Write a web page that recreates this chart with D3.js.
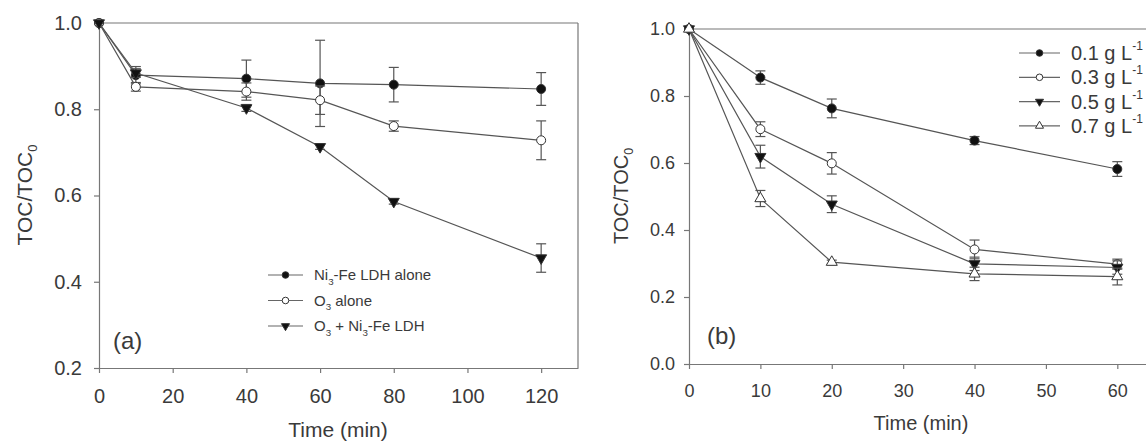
<!DOCTYPE html>
<html>
<head>
<meta charset="utf-8">
<script src="https://cdn.jsdelivr.net/npm/d3@7"></script>
<style>
  body { margin: 0; background: #fff; }
  svg { display: block; font-family: "Liberation Sans", Arial, sans-serif; }
  .axis path, .axis line { stroke: #777; stroke-width: 1.2; }
  .axis text { fill: #3a3a3a; }
</style>
</head>
<body>
<div id="chart"></div>
<script>
// panel (a) data
const timeA = [0, 10, 40, 60, 80, 120];
const ldhAlone = [1.0, 0.879, 0.871, 0.860, 0.857, 0.847];
const ldhAloneErr = [0, 0.02, 0.043, 0.1, 0.04, 0.038];
const o3Alone = [1.0, 0.852, 0.841, 0.821, 0.761, 0.728];
const o3AloneErr = [0, 0.01, 0.02, 0.033, 0.012, 0.045];
const o3Ldh = [1.0, 0.884, 0.803, 0.713, 0.586, 0.455];
const o3LdhErr = [0, 0.01, 0.008, 0.006, 0.006, 0.033];
const ticksXA = [0, 20, 40, 60, 80, 100, 120];
const ticksYA = [0.2, 0.4, 0.6, 0.8, 1.0];

// panel (b) data
const timeB = [0, 10, 20, 40, 60];
const dose01 = [1.0, 0.855, 0.763, 0.667, 0.582];
const dose01Err = [0, 0.02, 0.028, 0.012, 0.022];
const dose03 = [1.0, 0.701, 0.599, 0.342, 0.298];
const dose03Err = [0, 0.022, 0.032, 0.028, 0.015];
const dose05 = [1.0, 0.619, 0.477, 0.299, 0.288];
const dose05Err = [0, 0.034, 0.025, 0.02, 0.02];
const dose07 = [1.0, 0.494, 0.304, 0.269, 0.261];
const dose07Err = [0, 0.024, 0.006, 0.02, 0.025];
const ticksXB = [0, 10, 20, 30, 40, 50, 60];
const ticksYB = [0, 0.2, 0.4, 0.6, 0.8, 1.0];

const W = 1146, H = 441;
const LINE = "#555";
const TEXT = "#3a3a3a";

const svg = d3.select("#chart").append("svg")
  .attr("width", W).attr("height", H);

// 마커 그리기
function marker(g, kind, x, y, r) {
  const s = g.append("path");
  if (kind === "fcircle" || kind === "ocircle") {
    s.attr("d", d3.symbol(d3.symbolCircle, Math.PI * r * r)());
  } else {
    s.attr("d", d3.symbol(d3.symbolTriangle, r * r * 2.6)());
  }
  let t = `translate(${x},${y})`;
  if (kind === "ftri") t += " rotate(180)";
  s.attr("transform", t)
    .attr("fill", (kind === "fcircle" || kind === "ftri") ? "#111" : "#fff")
    .attr("stroke", "#333")
    .attr("stroke-width", 1);
}

function drawPanel(p) {
  const g = svg.append("g");
  const x = d3.scaleLinear().domain(p.xDomain).range(p.xRange);
  const y = d3.scaleLinear().domain(p.yDomain).range(p.yRange);

  // frame (top + right)
  g.append("line")
    .attr("x1", p.xRange[0]).attr("x2", p.xRange[1])
    .attr("y1", p.yRange[1]).attr("y2", p.yRange[1])
    .attr("stroke", "#777").attr("stroke-width", 1.2);
  g.append("line")
    .attr("x1", p.xRange[1]).attr("x2", p.xRange[1])
    .attr("y1", p.yRange[0]).attr("y2", p.yRange[1])
    .attr("stroke", "#777").attr("stroke-width", 1.2);

  g.append("g").attr("class", "axis")
    .attr("transform", `translate(0,${p.yRange[0]})`)
    .call(d3.axisBottom(x).tickValues(p.xTicks).tickFormat(d3.format("d"))
      .tickSize(5).tickSizeOuter(0).tickPadding(p.xPad))
    .call(a => a.selectAll("text").attr("font-size", p.font));

  g.append("g").attr("class", "axis")
    .attr("transform", `translate(${p.xRange[0]},0)`)
    .call(d3.axisLeft(y).tickValues(p.yTicks).tickFormat(d3.format(".1f"))
      .tickSize(5).tickSizeOuter(0).tickPadding(p.yPad))
    .call(a => a.selectAll("text").attr("font-size", p.font));

  // series
  p.series.forEach(s => {
    const pts = p.time.map((t, i) => ({ t, v: s.values[i], e: s.err[i] }));
    g.append("path")
      .datum(pts)
      .attr("fill", "none")
      .attr("stroke", LINE)
      .attr("stroke-width", 1.2)
      .attr("d", d3.line().x(d => x(d.t)).y(d => y(d.v)));

    pts.filter(d => d.e > 0).forEach(d => {
      const cx = x(d.t), y1 = y(d.v + d.e), y2 = y(d.v - d.e);
      g.append("line").attr("x1", cx).attr("x2", cx).attr("y1", y1).attr("y2", y2)
        .attr("stroke", LINE).attr("stroke-width", 1.2);
      [y1, y2].forEach(yy => {
        g.append("line").attr("x1", cx - 5).attr("x2", cx + 5).attr("y1", yy).attr("y2", yy)
          .attr("stroke", LINE).attr("stroke-width", 1.2);
      });
    });
    pts.forEach(d => marker(g, s.kind, x(d.t), y(d.v), p.r));
  });

  // axis titles
  g.append("text")
    .attr("transform", `translate(${p.yTitle[0]},${p.yTitle[1]}) rotate(-90)`)
    .attr("text-anchor", "middle").attr("font-size", p.titleFont).attr("fill", TEXT)
    .call(t => {
      t.append("tspan").text("TOC/TOC");
      t.append("tspan").attr("font-size", p.titleFont * 0.62).attr("dy", 5).text("0");
    });
  g.append("text")
    .attr("x", p.xTitle[0]).attr("y", p.xTitle[1])
    .attr("text-anchor", "middle").attr("font-size", p.titleFont).attr("fill", TEXT)
    .text("Time (min)");

  g.append("text")
    .attr("x", p.tag[0]).attr("y", p.tag[1])
    .attr("font-size", 24).attr("fill", TEXT)
    .text(p.tagText);

  // legend
  const L = p.legend;
  p.series.forEach((s, i) => {
    const ly = L.y0 + i * L.dy;
    g.append("line").attr("x1", L.x1).attr("x2", L.x2).attr("y1", ly).attr("y2", ly)
      .attr("stroke", "#666").attr("stroke-width", 1.2);
    marker(g, s.kind, (L.x1 + L.x2) / 2, ly, L.r);
    const txt = g.append("text")
      .attr("x", L.tx).attr("y", ly + L.font * 0.35)
      .attr("font-size", L.font).attr("fill", TEXT);
    s.label.forEach(part => {
      const ts = txt.append("tspan").text(part.t);
      if (part.sub) ts.attr("font-size", L.font * 0.65).attr("dy", L.font * 0.3);
      if (part.sup) ts.attr("font-size", L.font * 0.6).attr("dy", -L.font * 0.5);
      if (part.back) ts.attr("dy", part.back);
    });
  });
}

drawPanel({
  xDomain: [0, 130], xRange: [99, 578],
  yDomain: [0.2, 1.0], yRange: [368, 23],
  xTicks: ticksXA, yTicks: ticksYA,
  font: 20, xPad: 16, yPad: 12, r: 4.5,
  time: timeA,
  series: [
    { values: ldhAlone, err: ldhAloneErr, kind: "fcircle",
      label: [{ t: "Ni" }, { t: "3", sub: true }, { t: "-Fe LDH alone", back: -4.5 }] },
    { values: o3Alone, err: o3AloneErr, kind: "ocircle",
      label: [{ t: "O" }, { t: "3", sub: true }, { t: " alone", back: -4.5 }] },
    { values: o3Ldh, err: o3LdhErr, kind: "ftri",
      label: [{ t: "O" }, { t: "3", sub: true }, { t: " + Ni", back: -4.5 }, { t: "3", sub: true }, { t: "-Fe LDH", back: -4.5 }] }
  ],
  titleFont: 21, yTitle: [32, 195], xTitle: [338, 437],
  tag: [113, 349], tagText: "(a)",
  legend: { x1: 268, x2: 303, tx: 314, y0: 275, dy: 25.5, font: 15, r: 3.3 }
});

drawPanel({
  xDomain: [0, 65], xRange: [689, 1153],
  yDomain: [0, 1.0], yRange: [364, 29],
  xTicks: ticksXB, yTicks: ticksYB,
  font: 18, xPad: 15, yPad: 9, r: 4.5,
  time: timeB,
  series: [
    { values: dose01, err: dose01Err, kind: "fcircle",
      label: [{ t: "0.1 g L" }, { t: "-1", sup: true }] },
    { values: dose03, err: dose03Err, kind: "ocircle",
      label: [{ t: "0.3 g L" }, { t: "-1", sup: true }] },
    { values: dose05, err: dose05Err, kind: "ftri",
      label: [{ t: "0.5 g L" }, { t: "-1", sup: true }] },
    { values: dose07, err: dose07Err, kind: "otri",
      label: [{ t: "0.7 g L" }, { t: "-1", sup: true }] }
  ],
  titleFont: 20, yTitle: [628, 196], xTitle: [921, 430],
  tag: [707, 344], tagText: "(b)",
  legend: { x1: 1019, x2: 1060, tx: 1071, y0: 53, dy: 24.3, font: 20, r: 3.3 }
});
</script>
</body>
</html>
